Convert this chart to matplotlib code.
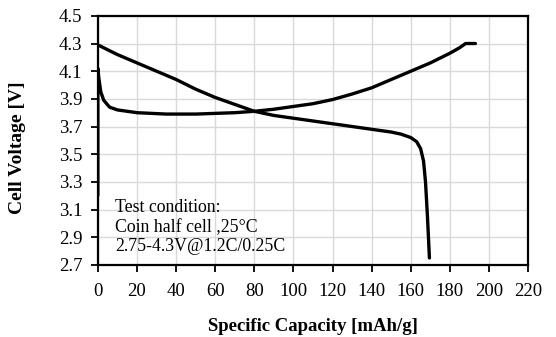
import matplotlib.pyplot as plt

plt.rcParams['font.family'] = ['Liberation Serif', 'DejaVu Serif']

# charge curve
chg_cap = [0, 0, 0.5, 1.5, 3, 6, 10, 20, 35, 50, 60, 70, 80, 90, 100, 110,
           120, 130, 140, 150, 160, 170, 180, 185, 188, 193]
chg_v = [3.2, 4.12, 4.05, 3.95, 3.89, 3.84, 3.82, 3.80, 3.79, 3.79, 3.795, 3.80,
         3.81, 3.825, 3.845, 3.865, 3.895, 3.935, 3.98, 4.04, 4.10, 4.16, 4.23,
         4.27, 4.30, 4.30]

# discharge curve
dis_cap = [0, 10, 20, 30, 40, 50, 60, 70, 80, 90, 100, 110, 120, 130, 140, 150,
           155, 160, 163, 165, 166.5, 167.5, 168.5, 169.5]
dis_v = [4.29, 4.22, 4.16, 4.10, 4.04, 3.97, 3.91, 3.86, 3.81, 3.78, 3.76, 3.74,
         3.72, 3.70, 3.68, 3.66, 3.645, 3.62, 3.59, 3.54, 3.45, 3.30, 3.05, 2.75]

xticks = list(range(0, 221, 20))
yticks = [2.7, 2.9, 3.1, 3.3, 3.5, 3.7, 3.9, 4.1, 4.3, 4.5]

fig = plt.figure(figsize=(5.56, 3.37), dpi=100)
ax = fig.add_axes([0.176, 0.214, 0.774, 0.739])

ax.plot(chg_cap, chg_v, color='black', lw=2.4, solid_capstyle='round', zorder=3)
ax.plot(dis_cap, dis_v, color='black', lw=2.4, solid_capstyle='round', zorder=3)

ax.set_xlim(0, 220)
ax.set_ylim(2.7, 4.5)
ax.set_xticks(xticks)
ax.set_yticks(yticks)
ax.set_yticklabels(['%.1f' % v for v in yticks])
ax.grid(True, color='#d9d9d9', lw=1)
ax.set_axisbelow(True)
for s in ax.spines.values():
    s.set_linewidth(1.6)
ax.tick_params(direction='out', length=5, width=1.3, labelsize=13.5)
ax.tick_params(axis='x', pad=8)
ax.tick_params(axis='y', pad=6)

ax.set_xlabel('Specific Capacity [mAh/g]', fontsize=13.5, fontweight='bold')
ax.set_ylabel('Cell Voltage [V]', fontsize=14, fontweight='bold')
ax.xaxis.set_label_coords(0.5, -0.215)
ax.yaxis.set_label_coords(-0.168, 0.47)

ax.text(9, 2.77, 'Test condition:\nCoin half cell ,25\u00b0C\n2.75-4.3V@1.2C/0.25C',
        fontsize=12.8, linespacing=1.2, va='bottom', ha='left')

fig.savefig('out.png', dpi=100)
